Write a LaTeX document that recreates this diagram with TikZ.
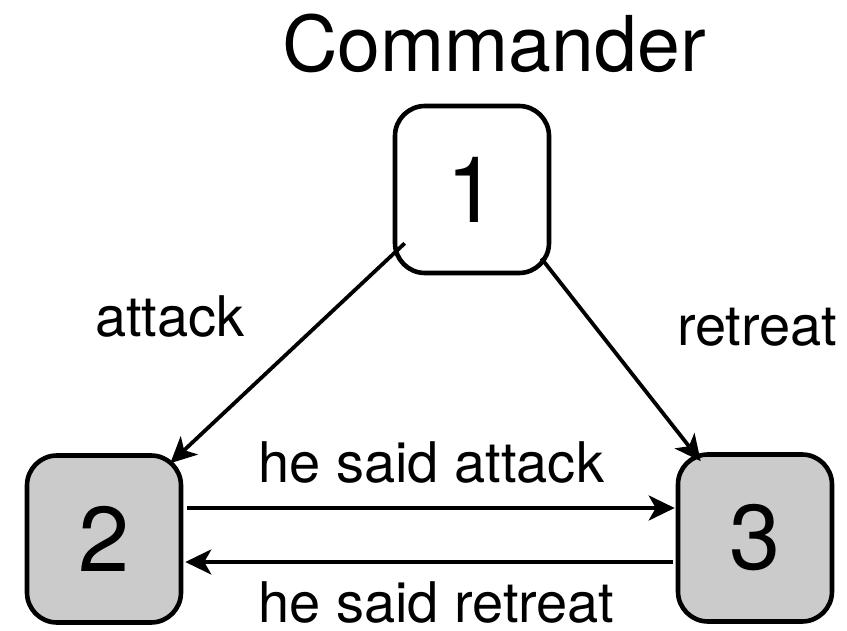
\documentclass[tikz,border=0pt]{standalone}
\usepackage{fontspec}
\setmainfont{TeX Gyre Heros}
\usetikzlibrary{arrows.meta,calc}
\definecolor{boxgray}{RGB}{203,203,203}
\tikzset{
  general/.style={draw=black, line width=4.6pt, rounded corners=30pt,
    minimum width=154pt, minimum height=167pt, inner sep=0pt,
    font=\fontsize{92}{100}\selectfont},
  lieutenant/.style={general, fill=boxgray},
  msg/.style={-{Stealth[length=26pt,width=25pt,inset=7pt]}, line width=3.8pt},
  lbl/.style={anchor=base west, inner sep=0pt, font=\fontsize{56}{60}\selectfont},
  title/.style={anchor=base west, inner sep=0pt, font=\fontsize{77}{80}\selectfont}
}
\begin{document}
\begin{tikzpicture}[x=1pt,y=-1pt]
  \useasboundingbox (0,0) rectangle (847,631);

  % generals
  \node[general, fill=white] (n1) at (472,189.5) {1};
  \node[lieutenant] (n2) at (104,539) {2};
  \node[lieutenant] (n3) at (755,538) {3};

  % title and labels
  \node[title] (cmd) at (282,72) {Commander};
  \node[lbl] (latt) at (95,337) {attack};
  \node[lbl] (lret) at (677,345) {retreat};
  \node[lbl] (lsatt) at (258,482) {he said attack};
  \node[lbl] (lsret) at (258,622) {he said retreat};

  % orders from the commander
  \draw[msg] ($(n1.south west)+(12,-32)$) -- ($(n2.north east)+(-13,10)$);
  \draw[msg] ($(n1.south east)+(-10,-17)$) -- ($(n3.north west)+(25,9)$);

  % messages between lieutenants
  \draw[msg] ($(n2.east)+(4,-31)$) -- ($(n3.west)+(-1,-30)$);
  \draw[msg] ($(n3.west)+(-3,24)$) -- ($(n2.east)+(2,23)$);
\end{tikzpicture}
\end{document}
